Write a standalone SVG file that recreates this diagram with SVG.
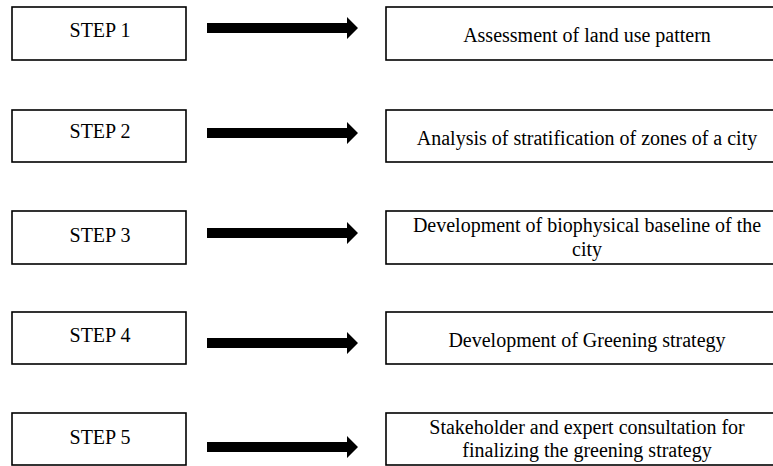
<svg xmlns="http://www.w3.org/2000/svg" width="773" height="466" viewBox="0 0 773 466">
<style>
.box{fill:#fff;stroke:#000;stroke-width:1.6}
.t{font-family:"Liberation Serif","Times New Roman",serif;font-size:20px;fill:#000;text-anchor:middle}
.arr{fill:#000}
</style>
<defs>
<path id="arrow" d="M0,-5 L140,-5 L140,-11 L151,0 L140,11 L140,5 L0,5 Z"/>
</defs>
<rect width="773" height="466" fill="#fff"/>
<g id="step1"><rect class="box" x="12" y="7" width="174" height="53"/><text class="t" x="100" y="37">STEP 1</text></g>
<g id="step2"><rect class="box" x="12" y="110" width="174" height="52"/><text class="t" x="100" y="138">STEP 2</text></g>
<g id="step3"><rect class="box" x="12" y="211" width="174" height="53"/><text class="t" x="100" y="242">STEP 3</text></g>
<g id="step4"><rect class="box" x="12" y="312" width="174" height="52"/><text class="t" x="100" y="342">STEP 4</text></g>
<g id="step5"><rect class="box" x="12" y="413" width="174" height="52"/><text class="t" x="100" y="444">STEP 5</text></g>
<g id="task1"><rect class="box" x="386" y="7" width="402" height="53"/><text class="t" x="587" y="42">Assessment of land use pattern</text></g>
<g id="task2"><rect class="box" x="386" y="110" width="402" height="52"/><text class="t" x="587" y="145">Analysis of stratification of zones of a city</text></g>
<g id="task3"><rect class="box" x="386" y="211" width="402" height="53"/><text class="t" x="587" y="232">Development of biophysical baseline of the</text><text class="t" x="587" y="256">city</text></g>
<g id="task4"><rect class="box" x="386" y="312" width="402" height="52"/><text class="t" x="587" y="347">Development of Greening strategy</text></g>
<g id="task5"><rect class="box" x="386" y="413" width="402" height="52"/><text class="t" x="587" y="434">Stakeholder and expert consultation for</text><text class="t" x="587" y="457">finalizing the greening strategy</text></g>
<g id="connectors" class="arr">
<use href="#arrow" x="207" y="28"/>
<use href="#arrow" x="207" y="133"/>
<use href="#arrow" x="207" y="233"/>
<use href="#arrow" x="207" y="343"/>
<use href="#arrow" x="207" y="447"/>
</g>
</svg>
